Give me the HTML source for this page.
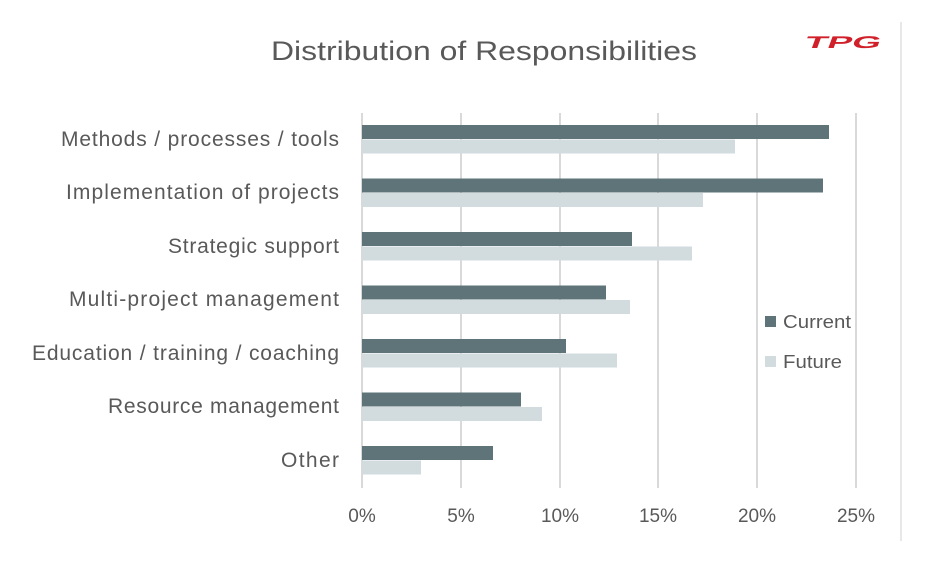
<!DOCTYPE html>
<html><head><meta charset="utf-8"><style>
html,body{margin:0;padding:0;background:#fff;}
svg{display:block;font-family:"Liberation Sans",sans-serif;}
</style></head><body>
<svg width="941" height="564" viewBox="0 0 941 564">
<rect width="941" height="564" fill="#fff"/>
<line x1="901" y1="22" x2="901" y2="541" stroke="#d0d0d0" stroke-width="1"/>
<text x="271" y="60" font-size="27" fill="#595959" textLength="426" lengthAdjust="spacingAndGlyphs">Distribution of Responsibilities</text>
<g transform="translate(808,35) skewX(-20)">
<text x="0" y="13" font-size="17" font-weight="bold" fill="#d0202a" textLength="76" lengthAdjust="spacingAndGlyphs">TPG</text>
</g>
<g stroke="#d9d9d9" stroke-width="2">
<line x1="362" y1="113" x2="362" y2="488"/>
<line x1="461" y1="113" x2="461" y2="488"/>
<line x1="560" y1="113" x2="560" y2="488"/>
<line x1="658" y1="113" x2="658" y2="488"/>
<line x1="757" y1="113" x2="757" y2="488"/>
<line x1="856" y1="113" x2="856" y2="488"/>
</g>
<g fill="#5f7478">
<rect x="362" y="125" width="467" height="14"/>
<rect x="362" y="178.5" width="461" height="14"/>
<rect x="362" y="232" width="270" height="14"/>
<rect x="362" y="285.5" width="244" height="14"/>
<rect x="362" y="339" width="204" height="14"/>
<rect x="362" y="392.5" width="159" height="14"/>
<rect x="362" y="446" width="131" height="14"/>
</g>
<g fill="#d2dcdf">
<rect x="362" y="139.5" width="373" height="14"/>
<rect x="362" y="193" width="341" height="14"/>
<rect x="362" y="246.5" width="330" height="14"/>
<rect x="362" y="300" width="268" height="14"/>
<rect x="362" y="353.5" width="255" height="14"/>
<rect x="362" y="407" width="180" height="14"/>
<rect x="362" y="460.5" width="59" height="14"/>
</g>
<g font-size="21" fill="#595959" lengthAdjust="spacingAndGlyphs">
<text x="61" y="146" textLength="278">Methods / processes / tools</text>
<text x="66" y="199" textLength="273">Implementation of projects</text>
<text x="168" y="253" textLength="171">Strategic support</text>
<text x="69" y="306" textLength="270">Multi-project management</text>
<text x="32" y="360" textLength="307">Education / training / coaching</text>
<text x="108" y="413" textLength="231">Resource management</text>
<text x="281" y="467" textLength="58">Other</text>
</g>
<g font-size="19" fill="#595959" text-anchor="middle">
<text x="362" y="522">0%</text>
<text x="461" y="522">5%</text>
<text x="560" y="522">10%</text>
<text x="658" y="522">15%</text>
<text x="757" y="522">20%</text>
<text x="856" y="522">25%</text>
</g>
<rect x="765" y="316" width="11" height="11" fill="#5f7478"/>
<rect x="765" y="356" width="11" height="11" fill="#d2dcdf"/>
<text x="783" y="328" font-size="18" fill="#595959" textLength="68" lengthAdjust="spacingAndGlyphs">Current</text>
<text x="783" y="368" font-size="18" fill="#595959" textLength="59" lengthAdjust="spacingAndGlyphs">Future</text>
</svg>
</body></html>
